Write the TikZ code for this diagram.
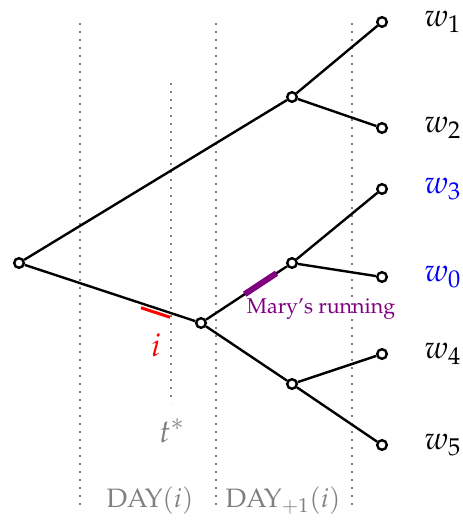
\documentclass[tikz,border=0pt]{standalone}
\usepackage[T1]{fontenc}
\usepackage{mathpazo}
\usetikzlibrary{calc}
\definecolor{marypurple}{RGB}{128,0,128}
\tikzset{
  world/.style={circle, draw, line width=1.2pt, inner sep=0pt, minimum size=4.8pt},
  branch/.style={line width=1.2pt},
  timeline/.style={gray, line width=1.2pt, dash pattern=on 1.1pt off 2.9pt},
  wlabel/.style={anchor=west, inner sep=0pt, font=\fontsize{16pt}{18pt}\selectfont},
}
\begin{document}
\begin{tikzpicture}[x=0.5pt, y=-0.5pt]
  \useasboundingbox (0,0) rectangle (462,522);

  % Lignes de temps
  \draw[timeline] (80,23) -- (80,507);
  \draw[timeline] (216,23) -- (216,507);
  \draw[timeline] (352,23) -- (352,507);
  \draw[timeline] (171,83) -- (171,403);

  % Mondes
  \node[world] (root) at (19,263) {};
  \node[world] (up) at (292,97) {};
  \node[world] (low) at (201,323) {};
  \node[world] (mid) at (292,263) {};
  \node[world] (bot) at (292,384) {};
  \node[world] (l1) at (382,22) {};
  \node[world] (l2) at (382,128) {};
  \node[world] (l3) at (382,189) {};
  \node[world] (l0) at (382,277) {};
  \node[world] (l4) at (382,354) {};
  \node[world] (l5) at (382,445) {};

  % Branches
  \draw[branch] (root) -- (up);
  \draw[branch] (root) -- (low);
  \draw[branch] (up) -- (l1);
  \draw[branch] (up) -- (l2);
  \draw[branch] (low) -- (mid);
  \draw[branch] (low) -- (bot);
  \draw[branch] (mid) -- (l3);
  \draw[branch] (mid) -- (l0);
  \draw[branch] (bot) -- (l4);
  \draw[branch] (bot) -- (l5);

  % Noms des mondes
  \node[wlabel] (w1) at (424,22) {$w_1$};
  \node[wlabel] (w2) at (424,128) {$w_2$};
  \node[wlabel, text=blue] (w3) at (424,189) {$w_3$};
  \node[wlabel, text=blue] (w0) at (424,277) {$w_0$};
  \node[wlabel] (w4) at (424,354) {$w_4$};
  \node[wlabel] (w5) at (424,445) {$w_5$};

  % Intervalle i
  \draw[red, line width=1.5pt] ($(root)!0.67!(low)+(0,4.5)$) -- ($(root)!0.83!(low)+(0,4.5)$);
  \node[red, font=\fontsize{16pt}{18pt}\selectfont] (ilabel) at (156,345) {$i$};

  % Evenement
  \draw[marypurple, line width=3pt] ($(low)!0.48!(mid)$) -- ($(low)!0.83!(mid)$);
  \node[marypurple, font=\fontsize{10.7pt}{13pt}\selectfont] (mary) at (321,309) {Mary's running};

  % Etiquettes du temps
  \node[gray, font=\fontsize{16pt}{18pt}\selectfont] (tstar) at (172,431) {$t^*$};
  \node[gray, font=\fontsize{13.3pt}{15pt}\selectfont] (day) at (150,501) {DAY$(i)$};
  \node[gray, font=\fontsize{13.3pt}{15pt}\selectfont] (dayplus) at (283,501) {DAY$_{+1}(i)$};
\end{tikzpicture}
\end{document}
